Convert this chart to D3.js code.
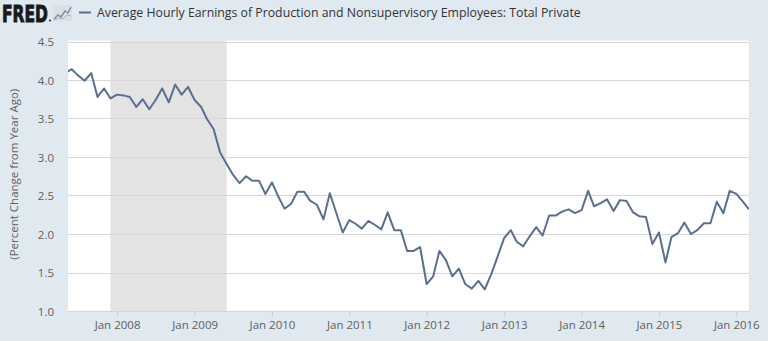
<!DOCTYPE html>
<html>
<head>
<meta charset="utf-8">
<script src="https://cdn.jsdelivr.net/npm/d3@7/dist/d3.min.js"></script>
<style>
  html, body { margin: 0; padding: 0; background: #e1e9f0; }
  svg { display: block; }
  text { font-family: "Open Sans", "Noto Sans", sans-serif; }
</style>
</head>
<body>
<svg id="chart" width="768" height="341"></svg>
<script>
// ---- data ----
const title = "Average Hourly Earnings of Production and Nonsupervisory Employees: Total Private";
const yAxisTitle = "(Percent Change from Year Ago)";
const firstMonth = "2007-05";
const lastMonth = "2016-03";
const values = [
  4.09, 4.14, 4.06, 3.99, 4.09, 3.78, 3.89, 3.76,
  3.81, 3.80, 3.78, 3.65, 3.75, 3.62, 3.74, 3.89, 3.71, 3.94, 3.81, 3.91,
  3.74, 3.65, 3.49, 3.36, 3.06, 2.91, 2.77, 2.66, 2.75, 2.69, 2.69, 2.52,
  2.67, 2.48, 2.33, 2.39, 2.55, 2.55, 2.43, 2.38, 2.19, 2.53, 2.27, 2.02,
  2.18, 2.13, 2.07, 2.17, 2.12, 2.06, 2.28, 2.05, 2.05, 1.78, 1.78, 1.83,
  1.35, 1.45, 1.78, 1.66, 1.45, 1.55, 1.35, 1.29, 1.39, 1.28, 1.48, 1.71,
  1.95, 2.05, 1.90, 1.84, 1.97, 2.09, 1.98, 2.24, 2.24, 2.29, 2.32, 2.27,
  2.31, 2.56, 2.36, 2.40, 2.45, 2.30, 2.44, 2.43, 2.28, 2.23, 2.22, 1.87,
  2.02, 1.63, 1.96, 2.01, 2.15, 2.00, 2.05, 2.14, 2.14, 2.42, 2.27, 2.56,
  2.52, 2.42, 2.32
];
const recession = ["2007-12", "2009-06"];
const yTicks = [1.0, 1.5, 2.0, 2.5, 3.0, 3.5, 4.0, 4.5];
const xTickYears = [2008, 2009, 2010, 2011, 2012, 2013, 2014, 2015, 2016];

// ---- setup ----
const parse = d3.timeParse("%Y-%m");
const months = d3.timeMonth.range(parse(firstMonth), d3.timeMonth.offset(parse(lastMonth), 1));
const data = months.map((d, i) => ({ date: d, value: values[i] }));

const svg = d3.select("#chart");
const plot = { left: 68, right: 749, top: 41.5, bottom: 311 };

const x = d3.scaleTime()
  .domain([parse("2007-06"), parse("2016-03")])
  .range([71.7, 749]);
const y = d3.scaleLinear().domain([1, 4.5]).range([plot.bottom, plot.top]);

// plot background
svg.append("rect")
  .attr("x", plot.left).attr("y", plot.top - 1)
  .attr("width", plot.right - plot.left).attr("height", plot.bottom - plot.top + 1)
  .attr("fill", "#ffffff");

svg.append("clipPath").attr("id", "clip").append("rect")
  .attr("x", plot.left).attr("y", plot.top - 5)
  .attr("width", plot.right - plot.left).attr("height", plot.bottom - plot.top + 10);

// recession shading
svg.append("rect")
  .attr("x", x(parse(recession[0])))
  .attr("y", plot.top - 1)
  .attr("width", x(parse(recession[1])) - x(parse(recession[0])))
  .attr("height", plot.bottom - plot.top + 1)
  .attr("fill", "#e3e3e3");

// gridlines
svg.append("g").selectAll("line").data(yTicks).join("line")
  .attr("x1", plot.left).attr("x2", plot.right)
  .attr("y1", d => Math.round(y(d)) + 0.5).attr("y2", d => Math.round(y(d)) + 0.5)
  .attr("stroke", "#d8d8d8").attr("stroke-width", 1);

// y axis
const yAxis = d3.axisLeft(y).tickValues(yTicks).tickFormat(d3.format(".1f")).tickSize(0).tickPadding(0);
const gy = svg.append("g").attr("transform", `translate(${plot.left - 14},0)`).call(yAxis);
gy.select(".domain").remove();
gy.selectAll("text").attr("fill", "#606060").style("font-size", "11.5px").attr("dy", "0.35em");

// y axis title
svg.append("text")
  .attr("transform", `translate(18,${(plot.top + plot.bottom) / 2 - 2}) rotate(-90)`)
  .attr("text-anchor", "middle")
  .attr("fill", "#606060")
  .style("font-size", "11.5px")
  .text(yAxisTitle);

// x axis
const xAxis = d3.axisBottom(x)
  .tickValues(xTickYears.map(yr => new Date(yr, 0, 1)))
  .tickFormat(d3.timeFormat("Jan %Y"))
  .tickSize(6).tickPadding(4);
const gx = svg.append("g").attr("transform", `translate(0,${plot.bottom})`).call(xAxis);
gx.select(".domain").attr("stroke", "#ccd6e0").attr("d", `M${plot.left},0.5H${plot.right}`);
gx.selectAll(".tick line").attr("stroke", "#c8d2dc");
gx.selectAll("text").attr("fill", "#606060").style("font-size", "11.5px");

// line
const line = d3.line().x(d => x(d.date)).y(d => y(d.value));
svg.append("path")
  .datum(data)
  .attr("clip-path", "url(#clip)")
  .attr("d", line)
  .attr("fill", "none")
  .attr("stroke", "#5a6f90")
  .attr("stroke-width", 2)
  .attr("stroke-linejoin", "round");

// header: FRED logo
svg.append("text")
  .attr("x", 2).attr("y", 21.5)
  .attr("textLength", 46).attr("lengthAdjust", "spacingAndGlyphs")
  .style("font-family", "'DejaVu Sans', sans-serif")
  .style("font-weight", "bold").style("font-size", "23px")
  .attr("fill", "#1a1a1a").attr("stroke", "#1a1a1a").attr("stroke-width", 1)
  .text("FRED");
svg.append("circle").attr("cx", 50).attr("cy", 20.5).attr("r", 0.9).attr("fill", "#1a1a1a");
// small graph icon
const icon = svg.append("g").attr("transform", "translate(53,5)");
icon.append("rect").attr("width", 19).attr("height", 16).attr("fill", "#d5dbe3").attr("opacity", 0.7);
icon.append("polyline").attr("points", "1,14 5,10 8,12 12,6 15,8 18,2")
  .attr("fill", "none").attr("stroke", "#7d8fa9").attr("stroke-width", 1.5);
icon.append("polyline").attr("points", "1,15 6,13 10,14 14,10 18,11")
  .attr("fill", "none").attr("stroke", "#a8b4c4").attr("stroke-width", 1);

// legend line + title
svg.append("line").attr("x1", 79).attr("x2", 91).attr("y1", 12.5).attr("y2", 12.5)
  .attr("stroke", "#5a6f90").attr("stroke-width", 2);
svg.append("text")
  .attr("x", 97).attr("y", 16.5)
  .attr("fill", "#333333")
  .style("font-size", "12.3px")
  .text(title);
</script>
</body>
</html>
